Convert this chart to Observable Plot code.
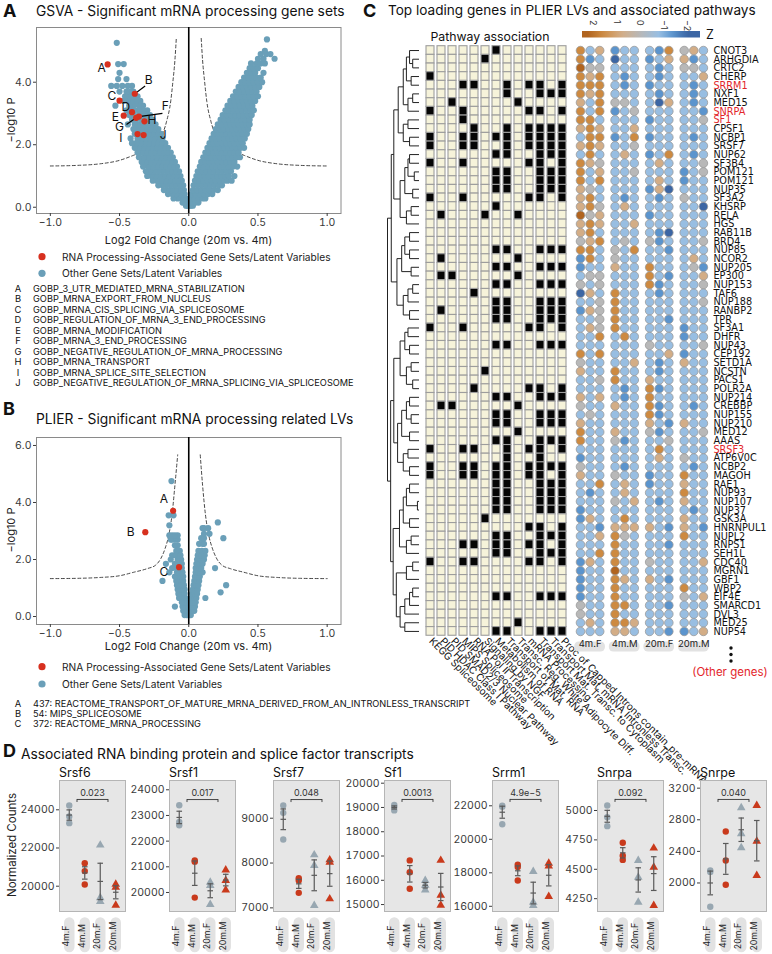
<!DOCTYPE html>
<html><head><meta charset="utf-8">
<script src="https://cdn.jsdelivr.net/npm/d3@7"></script>
<script src="https://cdn.jsdelivr.net/npm/@observablehq/plot@0.6"></script>
<style>
body{margin:0;background:#fff;}
#fig{position:relative;width:772px;height:954px;overflow:hidden;background:#fff;font-family:Inter,"Noto Sans",sans-serif;}
#fig svg{position:absolute;left:0;top:0;}
</style></head><body><div id="fig"></div>
<script>
// ---------------- DATA ----------------
// Panel A (GSVA) blue points: rows of [y, x...]
const gsvaLeft = [
 [0.05,-0.01,-0.02,-0.005],[0.15,-0.01,-0.03,-0.045,-0.02],[0.28,-0.02,-0.05,-0.08,-0.11,-0.035],
 [0.42,-0.03,-0.06,-0.09,-0.12,-0.15],[0.55,-0.035,-0.065,-0.095,-0.125,-0.155,-0.18],
 [0.7,-0.04,-0.07,-0.1,-0.13,-0.16,-0.19,-0.22],[0.85,-0.05,-0.08,-0.11,-0.14,-0.17,-0.2,-0.23,-0.26],
 [1.0,-0.06,-0.09,-0.12,-0.15,-0.18,-0.21,-0.24,-0.27,-0.3],[1.15,-0.07,-0.1,-0.13,-0.16,-0.19,-0.22,-0.25,-0.28,-0.31],
 [1.3,-0.085,-0.115,-0.145,-0.175,-0.205,-0.235,-0.265,-0.295,-0.33],[1.45,-0.1,-0.13,-0.16,-0.19,-0.22,-0.25,-0.28,-0.31,-0.34],
 [1.6,-0.115,-0.145,-0.175,-0.205,-0.235,-0.265,-0.295,-0.325,-0.36],[1.75,-0.13,-0.16,-0.19,-0.22,-0.25,-0.28,-0.31,-0.34,-0.37],
 [1.9,-0.15,-0.18,-0.21,-0.24,-0.27,-0.3,-0.33,-0.36,-0.39],[2.05,-0.17,-0.2,-0.23,-0.26,-0.29,-0.32,-0.35,-0.38,-0.41],
 [2.2,-0.19,-0.22,-0.25,-0.28,-0.31,-0.34,-0.37,-0.42],[2.35,-0.2,-0.23,-0.26,-0.29,-0.32,-0.35,-0.39],
 [2.5,-0.22,-0.25,-0.28,-0.31,-0.34,-0.37,-0.4],[2.65,-0.24,-0.27,-0.3,-0.33,-0.36,-0.39,-0.44],
 [2.8,-0.26,-0.29,-0.31,-0.34,-0.38,-0.41],[2.95,-0.28,-0.3,-0.33,-0.36,-0.4,-0.43],
 [3.1,-0.3,-0.33,-0.36,-0.39,-0.42,-0.45],[3.25,-0.33,-0.36,-0.4,-0.43,-0.53],[3.4,-0.35,-0.38,-0.41,-0.44,-0.47],
 [3.55,-0.37,-0.4,-0.43,-0.46],[3.7,-0.4,-0.42,-0.45,-0.5],[3.88,-0.41,-0.44,-0.48,-0.52,-0.56],
 [4.1,-0.45,-0.51],[4.3,-0.5],[4.58,-0.51,-0.47],[5.26,-0.52]
];
const gsvaRight = [
 [0.05,0.005,0.015,0.03],[0.15,0.01,0.03,0.05,0.07],[0.28,0.015,0.04,0.07,0.1,0.12],
 [0.42,0.02,0.05,0.08,0.11,0.14,0.17],[0.55,0.03,0.06,0.09,0.12,0.15,0.18,0.21],
 [0.7,0.035,0.065,0.095,0.125,0.155,0.185,0.215,0.24],[0.85,0.045,0.075,0.105,0.135,0.165,0.195,0.225,0.255,0.28,0.31],
 [1.0,0.055,0.085,0.115,0.145,0.175,0.205,0.235,0.265,0.29,0.33],[1.15,0.065,0.095,0.125,0.155,0.185,0.215,0.245,0.275,0.305],
 [1.3,0.08,0.11,0.14,0.17,0.2,0.23,0.26,0.29,0.32,0.35],[1.45,0.09,0.12,0.15,0.18,0.21,0.24,0.27,0.3,0.33],
 [1.6,0.105,0.135,0.165,0.195,0.225,0.255,0.285,0.315,0.345,0.37],[1.75,0.12,0.15,0.18,0.21,0.24,0.27,0.3,0.33,0.36],
 [1.9,0.135,0.165,0.195,0.225,0.255,0.285,0.315,0.345,0.375,0.4],[2.05,0.15,0.18,0.21,0.24,0.27,0.3,0.33,0.36,0.39],
 [2.2,0.165,0.195,0.225,0.255,0.285,0.315,0.345,0.375,0.405],[2.35,0.18,0.21,0.24,0.27,0.3,0.33,0.36,0.39,0.42],
 [2.5,0.195,0.225,0.255,0.285,0.315,0.345,0.375,0.405,0.43],[2.65,0.21,0.24,0.27,0.3,0.33,0.36,0.39,0.42,0.44],
 [2.8,0.23,0.26,0.29,0.32,0.35,0.38,0.41,0.44],[2.95,0.245,0.275,0.305,0.335,0.365,0.395,0.425,0.455],
 [3.1,0.265,0.295,0.325,0.355,0.385,0.415,0.445,0.47],[3.25,0.28,0.31,0.34,0.37,0.4,0.43,0.46],
 [3.4,0.3,0.33,0.36,0.39,0.42,0.45,0.48],[3.55,0.32,0.35,0.38,0.41,0.44,0.47,0.5],
 [3.7,0.34,0.37,0.4,0.43,0.46,0.49],[3.85,0.36,0.39,0.42,0.45,0.48,0.51],[4.0,0.38,0.41,0.44,0.47,0.5,0.53],
 [4.15,0.4,0.43,0.46,0.49,0.52],[4.3,0.42,0.45,0.48,0.54],[4.45,0.44,0.47,0.5],[4.6,0.45,0.49,0.52,0.55],
 [4.75,0.5,0.54,0.62],[4.9,0.52,0.56,0.59],[5.0,0.55],[5.37,0.565]
];
const gsvaCurveL = [[-1,1.32],[-0.8,1.34],[-0.64,1.39],[-0.5,1.5],[-0.4,1.66],[-0.3,1.85],[-0.25,2.0],[-0.2,2.25],[-0.16,2.75],[-0.13,3.4],[-0.115,4.0],[-0.1,4.7],[-0.09,5.4]];
const gsvaCurveR = [[0.09,5.4],[0.1,4.7],[0.115,4.0],[0.13,3.4],[0.16,2.75],[0.2,2.25],[0.25,2.0],[0.3,1.85],[0.4,1.66],[0.5,1.5],[0.64,1.39],[0.8,1.34],[1,1.32]];
const gsvaRed = [
 {id:"A",x:-0.586,y:4.57,lx:-0.63,ly:4.45},{id:"B",x:-0.39,y:3.63,lx:-0.29,ly:4.05},
 {id:"C",x:-0.50,y:3.41,lx:-0.555,ly:3.54},{id:"D",x:-0.41,y:3.04,lx:-0.455,ly:3.2},
 {id:"E",x:-0.47,y:2.93,lx:-0.53,ly:2.87},{id:"F",x:-0.36,y:2.9,lx:-0.17,ly:3.22},
 {id:"G",x:-0.38,y:2.86,lx:-0.5,ly:2.56},{id:"H",x:-0.32,y:2.75,lx:-0.265,ly:2.78},
 {id:"I",x:-0.37,y:2.34,lx:-0.49,ly:2.22},{id:"J",x:-0.326,y:2.31,lx:-0.185,ly:2.32}
];
const gsvaLeaders = [{x1:-0.39,y1:3.63,x2:-0.315,y2:3.88},{x1:-0.36,y1:2.9,x2:-0.19,y2:3.0},{x1:-0.45,y1:2.65,x2:-0.38,y2:2.86}];
const gsvaNames = ["GOBP_3_UTR_MEDIATED_MRNA_STABILIZATION","GOBP_MRNA_EXPORT_FROM_NUCLEUS","GOBP_MRNA_CIS_SPLICING_VIA_SPLICEOSOME","GOBP_REGULATION_OF_MRNA_3_END_PROCESSING","GOBP_MRNA_MODIFICATION","GOBP_MRNA_3_END_PROCESSING","GOBP_NEGATIVE_REGULATION_OF_MRNA_PROCESSING","GOBP_MRNA_TRANSPORT","GOBP_MRNA_SPLICE_SITE_SELECTION","GOBP_NEGATIVE_REGULATION_OF_MRNA_SPLICING_VIA_SPLICEOSOME"];

// Panel B (PLIER)
const plierLeft = [
 [0.05,-0.005,-0.015,-0.03],[0.2,-0.01,-0.025,-0.04],[0.35,-0.015,-0.03,-0.045,-0.1],[0.5,-0.02,-0.035,-0.05],
 [0.65,-0.025,-0.04,-0.055,-0.07],[0.8,-0.03,-0.045,-0.06,-0.075],[0.95,-0.03,-0.05,-0.065,-0.08],
 [1.1,-0.035,-0.05,-0.07,-0.085],[1.25,-0.04,-0.055,-0.075,-0.09,-0.19],[1.4,-0.04,-0.06,-0.08,-0.1],
 [1.55,-0.045,-0.065,-0.085,-0.14],[1.7,-0.05,-0.07,-0.09,-0.12],[1.85,-0.05,-0.075,-0.1,-0.165],
 [2.0,-0.055,-0.08,-0.13],[2.15,-0.06,-0.085,-0.1,-0.12],[2.3,-0.065,-0.09],[2.5,-0.08,-0.1],
 [2.7,-0.08,-0.1,-0.12,-0.13],[2.85,-0.08,-0.1,-0.12,-0.14],[3.2,-0.14],[3.55,-0.11,-0.145],[4.75,-0.125]
];
const plierRight = [
 [0.05,0.005,0.015],[0.2,0.01,0.025,0.04],[0.35,0.015,0.03,0.045],[0.5,0.02,0.035,0.05],
 [0.65,0.02,0.04,0.055,0.12],[0.8,0.025,0.045,0.06],[0.85,0.23],[0.95,0.03,0.05,0.065],
 [1.1,0.035,0.055,0.07,0.27],[1.25,0.04,0.06,0.075],[1.4,0.045,0.065,0.08],[1.55,0.05,0.07,0.085,0.1],
 [1.7,0.05,0.075,0.09,0.19],[1.85,0.055,0.08,0.1],[2.0,0.06,0.085,0.11],[2.15,0.065,0.09,0.115],
 [2.3,0.07,0.095,0.12],[2.55,0.075,0.1,0.11],[2.75,0.09,0.11,0.25],[2.9,0.11,0.15],[3.1,0.1,0.11,0.14],[3.3,0.21]
];
const plierCurveL = [[-1,1.33],[-0.8,1.34],[-0.64,1.37],[-0.5,1.43],[-0.4,1.55],[-0.3,1.68],[-0.24,1.8],[-0.2,2.05],[-0.17,2.4],[-0.145,2.84],[-0.12,3.6],[-0.1,4.6],[-0.08,5.67]];
const plierCurveR = [[0.083,5.67],[0.1,4.6],[0.12,3.6],[0.145,2.84],[0.17,2.4],[0.2,2.05],[0.24,1.8],[0.3,1.68],[0.4,1.55],[0.5,1.43],[0.64,1.37],[0.8,1.34],[1,1.33]];
const plierRed = [{id:"A",x:-0.113,y:3.71,lx:-0.18,ly:4.12},{id:"B",x:-0.314,y:2.96,lx:-0.42,ly:2.96},{id:"C",x:-0.07,y:1.73,lx:-0.18,ly:1.55}];
const plierNames = ["437: REACTOME_TRANSPORT_OF_MATURE_MRNA_DERIVED_FROM_AN_INTRONLESS_TRANSCRIPT","54: MIPS_SPLICEOSOME","372: REACTOME_MRNA_PROCESSING"];

// Panel C
const genes = ["CNOT3","ARHGDIA","CRTC2","CHERP","SRRM1","NXF1","MED15","SNRPA","SF1","CPSF1","NCBP1","SRSF7","NUP62","SF3B4","POM121","POM121","NUP35","SF3A2","KHSRP","RELA","HGS","RAB11B","BRD4","NUP85","NCOR2","NUP205","EP300","NUP153","TAF6","NUP188","RANBP2","TPR","SF3A1","DHFR","NUP43","CEP192","SETD1A","NCSTN","PACS1","POLR2A","NUP214","CREBBP","NUP155","NUP210","MED12","AAAS","SRSF3","ATP6V0C","NCBP2","MAGOH","RAE1","NUP93","NUP107","NUP37","GSK3A","HNRNPUL1","NUPL2","RNPS1","SEH1L","CDC40","MGRN1","GBF1","WBP2","EIF4E","SMARCD1","DVL3","MED25","NUP54"];
const highlightGenes = ["SRRM1","SNRPA","SF1","SRSF3"];
const pathways = ["KEGG Spliceosome","PID HDAC Class I Pathway","PID SMAD2/3 Nuclear Pathway","MIPS Spliceosome","RNA Pol II Transcription","Signaling by NGF","Metabolism of RNA","Transport of Mat. RNA","Transc. Reg. White Adipocyte Diff.","mRNA Processing","Transport Mat. Transc. to Cytoplasm","Transport Mat. mRNA Intronless Transc.","Proc of Capped Introns contain_pre-mRNA"];
const nup = [7,8,11,12,13];
const pathwayHits = [
 [7],[6],[],[1],[4,5,8,10,11,13],[8,11,12,13],[3,9],[1,4,10,11,13],[4],[5,8,10,11,12,13],
 [1,4,5,7,8,10,11,12,13],[1,4,5,8,10,11,12,13],nup,[1,4,10,11,13],nup,nup,nup,[1,4,10,11,13],[7],[2,6,9],
 [],[],[],nup,[2,9],nup,[2,3,9],nup,[5],nup,
 [2,7,8,11,12,13],nup,[1,4,10,11,13],[],nup,[],[],[6],[],[5,10,11,13],
 nup,[2,3,9],nup,nup,[9],nup,[1,4,5,8,10,11,13],[8,11],[1,4,5,7,8,10,11,12,13],[1,4,5,7,8,10,11,13],
 nup,nup,nup,nup,[6],[10,11,13],nup,[4,5,7,8,10,11,13],nup,[1,4,5,10,11,13],
 [],[],[],nup,[],[],[9],nup
];
const sampleGroups = ["4m.F","4m.M","20m.F","20m.M"];
// Z scores: 12 per gene (4m.F x3, 4m.M x3, 20m.F x3, 20m.M x3)
const zScores = [
 [1.6,-0.8,0.8,-1.4,-0.8,-0.8,-0.8,-1.4,1.6,0,0.8,-0.8],
 [1.6,-1.4,-0.8,-2,-0.8,-0.8,-1.4,-0.8,0.8,0.8,-1.4,-0.8],
 [2.2,0,0,-0.8,-0.8,-0.8,-0.8,-1.4,-0.8,0,0,-0.8],
 [1.6,0.8,1.6,-0.8,-1.4,-0.8,-0.8,-1.4,-0.8,-0.8,-0.8,0.8],
 [1.6,1.6,1.6,-0.8,-1.4,-0.8,-1.4,-0.8,-0.8,-0.8,-1.4,-0.8],
 [1.6,0.8,1.6,-0.8,-0.8,-0.8,-0.8,-1.4,-0.8,-0.8,-1.4,-0.8],
 [0.8,-0.8,1.6,0,0,-0.8,-0.8,-2,0.8,-0.8,-1.4,-0.8],
 [1.6,-0.8,1.6,-1.4,-0.8,0,-0.8,-0.8,-0.8,-0.8,-0.8,-1.4],
 [1.6,1.6,-0.8,-0.8,-0.8,-0.8,-1.4,-0.8,-0.8,-0.8,-0.8,0],
 [0.8,1.6,0.8,-0.8,-0.8,0.8,-0.8,-0.8,-0.8,-0.8,-0.8,-0.8],
 [-0.8,1.6,1.6,-1.4,-0.8,1.6,-1.4,-0.8,-0.8,-0.8,-1.4,-0.8],
 [0.8,1.6,0.8,-0.8,-0.8,0,-0.8,-0.8,-0.8,-0.8,-0.8,-0.8],
 [-0.8,1.6,-0.8,-0.8,0.8,-0.8,-1.4,-0.8,1.6,-0.8,-1.4,-0.8],
 [1.6,0.8,0,-0.8,-0.8,-0.8,-0.8,0.8,-0.8,-0.8,-0.8,0],
 [1.6,-0.8,0.8,-0.8,-0.8,0,-0.8,-0.8,-0.8,-1.4,-0.8,0],
 [1.6,-0.8,1.6,-0.8,-0.8,-0.8,-0.8,0.8,-0.8,-1.4,-0.8,-0.8],
 [0.8,0,-0.8,-0.8,-0.8,-0.8,-1.4,0.8,-2,-0.8,-0.8,-0.8],
 [0.8,1.6,-0.8,-0.8,-1.4,-0.8,-0.8,-1.4,-0.8,0,-0.8,-0.8],
 [0.8,1.6,0,-0.8,0.8,-0.8,-0.8,-0.8,-0.8,-0.8,-0.8,-2],
 [2.2,0,0.8,-0.8,-0.8,-0.8,-1.4,-0.8,-0.8,-0.8,-0.8,-0.8],
 [0.8,1.6,0.8,-0.8,-0.8,0.8,-0.8,-0.8,-0.8,-0.8,-0.8,-0.8],
 [0.8,1.6,-0.8,-0.8,-0.8,-0.8,-0.8,-1.4,-2,-0.8,-0.8,-0.8],
 [0,0.8,1.6,-0.8,0,-0.8,0,-1.4,-0.8,-0.8,-0.8,0],
 [1.6,1.6,-0.8,0,-0.8,1.6,-0.8,-0.8,-1.4,-0.8,-0.8,-0.8],
 [-1.4,1.6,-0.8,0,-0.8,-0.8,-0.8,-0.8,-0.8,-0.8,0.8,-0.8],
 [-1.4,-0.8,-0.8,0.8,-0.8,-0.8,1.6,-0.8,-0.8,-0.8,0,-1.4],
 [-0.8,0,0,-0.8,-0.8,-0.8,1.6,-0.8,-1.4,-0.8,-0.8,0.8],
 [0,-0.8,0,-0.8,-0.8,-0.8,1.6,-1.4,-0.8,-0.8,-0.8,0],
 [-2,0.8,-0.8,1.6,-0.8,-0.8,-0.8,-1.4,-0.8,-0.8,-0.8,-0.8],
 [-0.8,-0.8,0,1.6,-0.8,-0.8,-0.8,-0.8,-0.8,-0.8,-0.8,0],
 [-1.4,0.8,0,1.6,-0.8,-0.8,-0.8,-0.8,-0.8,-0.8,-0.8,-0.8],
 [-0.8,-0.8,0,1.6,-0.8,-0.8,-0.8,-0.8,-1.4,-0.8,-0.8,-0.8],
 [-0.8,0.8,0,1.6,-0.8,-0.8,-0.8,-0.8,-0.8,-1.4,-0.8,-0.8],
 [-0.8,-0.8,1.6,-0.8,1.6,-0.8,-0.8,-0.8,-0.8,-1.4,-0.8,-0.8],
 [-0.8,-0.8,-0.8,-0.8,-0.8,-0.8,0,-0.8,-0.8,-0.8,-0.8,0],
 [1.6,-0.8,1.6,-0.8,-0.8,-0.8,-0.8,-0.8,0.8,-1.4,-0.8,-0.8],
 [0,-0.8,-0.8,-0.8,-0.8,0.8,-0.8,-1.4,-0.8,0.8,-0.8,-0.8],
 [0.8,-0.8,-0.8,1.6,-0.8,-0.8,-0.8,-1.4,-0.8,-0.8,-0.8,-0.8],
 [-0.8,-0.8,0,1.6,-0.8,-0.8,0.8,-0.8,-0.8,-0.8,-0.8,-0.8],
 [-0.8,-0.8,-0.8,-0.8,-1.4,-0.8,1.6,-1.4,-0.8,-0.8,-0.8,-0.8],
 [0.8,-0.8,0.8,-0.8,-1.4,-0.8,1.6,-0.8,-0.8,-0.8,-0.8,-0.8],
 [0,-0.8,-0.8,0.8,-0.8,-0.8,1.6,-1.4,-0.8,-0.8,-1.4,-0.8],
 [-0.8,0,-0.8,-0.8,-0.8,-0.8,1.6,-1.4,-0.8,-0.8,-0.8,-0.8],
 [0.8,-0.8,-0.8,-0.8,-0.8,-0.8,0.8,-0.8,-1.4,0.8,-0.8,-0.8],
 [1.6,-0.8,-0.8,0.8,-0.8,-0.8,0,-1.4,-0.8,-0.8,-0.8,0],
 [1.6,-0.8,-0.8,0,-1.4,-0.8,-0.8,-0.8,0,-0.8,-0.8,-0.8],
 [-0.8,-0.8,-0.8,-0.8,-0.8,-0.8,-0.8,1.6,-0.8,-0.8,-0.8,-0.8],
 [-1.4,-0.8,-0.8,-0.8,-0.8,-0.8,-0.8,0.8,-0.8,0,-0.8,-0.8],
 [0,-0.8,-0.8,-0.8,-1.4,-0.8,-0.8,-0.8,-0.8,-0.8,-1.4,-0.8],
 [0.8,-0.8,-0.8,0,-0.8,-0.8,-1.4,-0.8,-0.8,1.6,-0.8,-0.8],
 [-0.8,-0.8,1.6,-0.8,0.8,-0.8,-1.4,-0.8,-0.8,0.8,-0.8,-0.8],
 [-0.8,-1.4,-0.8,-0.8,0.8,-0.8,-0.8,-0.8,-0.8,1.6,-0.8,-0.8],
 [-0.8,-0.8,-0.8,0,-0.8,0.8,-0.8,-1.4,-0.8,0.8,-0.8,-0.8],
 [-1.4,-0.8,-0.8,-0.8,-0.8,-0.8,-0.8,-0.8,-0.8,-0.8,-1.4,-0.8],
 [-1.4,0.8,-0.8,-0.8,1.6,-0.8,-0.8,-0.8,-0.8,0.8,-0.8,-0.8],
 [-0.8,-0.8,-1.4,0.8,0.8,0.8,0.8,-0.8,-1.4,0.8,-0.8,-1.4],
 [-0.8,-0.8,0.8,1.6,0,-0.8,-0.8,-0.8,-0.8,1.6,-0.8,-0.8],
 [-0.8,-0.8,-0.8,1.6,-0.8,-0.8,-0.8,-0.8,-1.4,-0.8,-0.8,-0.8],
 [-0.8,-0.8,1.6,1.6,-0.8,-0.8,-0.8,-0.8,-0.8,-0.8,-0.8,-0.8],
 [-1.4,0.8,-0.8,1.6,-0.8,-0.8,0,-0.8,-0.8,-0.8,-0.8,0.8],
 [-1.4,-0.8,-0.8,2.2,-0.8,-0.8,-0.8,-0.8,-0.8,-0.8,-0.8,-0.8],
 [-1.4,-0.8,-0.8,1.6,0.8,-0.8,0.8,-0.8,-1.4,-0.8,-0.8,-0.8],
 [-1.4,-0.8,-0.8,1.6,-0.8,-0.8,-0.8,-0.8,-0.8,1.6,-0.8,-0.8],
 [-1.4,-0.8,-0.8,1.6,-0.8,-0.8,-0.8,-0.8,-0.8,0,-0.8,0.8],
 [0,-0.8,-0.8,1.6,1.6,-0.8,-0.8,-0.8,-1.4,-0.8,-0.8,-0.8],
 [0,-0.8,-0.8,1.6,-0.8,-0.8,-0.8,-0.8,-0.8,-0.8,-0.8,-0.8],
 [-0.8,0.8,-0.8,1.6,1.6,0.8,-0.8,-0.8,-0.8,-0.8,-0.8,-0.8],
 [-0.8,-0.8,-0.8,0.8,0.8,-0.8,-0.8,-0.8,-1.4,-1.4,-0.8,0.8]
];
// dendrogram: [left, right, height] with leaves = gene row indices
const treeA = [[[0,1,0.45],[2,[3,[4,5,0.2],0.3],0.45],0.6],[6,[7,8,0.2],0.4],0.72];
const treeB = [[9,[10,11,0.25],0.4],[[12,13,0.3],[[14,15,0.05],[16,17,0.3],0.4],0.5],0.62];
const treeC = [[[18,19,0.3],[20,21,0.35],0.5],[[22,23,0.3],[[24,25,0.25],[26,27,0.3],0.4],0.55],0.68];
const treeD = [[[28,29,0.2],[30,31,0.25],0.4],[[32,33,0.3],[34,35,0.35],0.45],0.6];
const treeE = [[[36,37,0.3],[38,[39,40,0.2],0.35],0.5],[[41,42,0.25],[[43,44,0.3],[45,46,0.3],0.45],0.55],0.7];
const treeF = [[47,[48,49,0.25],0.4],[[50,51,0.2],[[52,53,0.15],[54,55,0.3],0.35],0.45],0.6];
const treeG = [[[56,57,0.3],[58,59,0.35],0.5],[[60,[61,62,0.2],0.35],[[63,64,0.25],[[65,66,0.2],67,0.3],0.4],0.5],0.66];
const treeRoot = [[[treeA,treeB,0.82],[treeC,treeD,0.8],0.9],[treeE,[treeF,treeG,0.8],0.88],1.0];
const zTicks = [2,1,0,-1,-2];

// Panel D
const facetGenes = ["Srsf6","Srsf1","Srsf7","Sf1","Srrm1","Snrpa","Snrpe"];
const counts = [
 [[24225,23650,23300],[21200,20790,20090],[22150,19400,19200],[20100,19950,19000]],
 [[23400,22750,22620],[21250,21200,19800],[20400,20270,19530],[20880,20470,20100]],
 [[9283,9119,8524],[7662,7610,7335],[8182,7944,7052],[8071,8019,7201]],
 [[19100,19020,18880],[16820,16330,15650],[15990,15800,15600],[16820,15380,14970]],
 [[22000,21950,20900],[18480,18340,17540],[18080,16245,16050],[18575,18400,16585]],
 [[5042,4943,4867],[4725,4615,4580],[4575,4433,4220],[4680,4518,4192]],
 [[2160,2140,1700],[2652,2285,1977],[2952,2623,2446],[2981,2529,2095]]
];
const facetTicks = [[20000,22000,24000],[20000,21000,22000,23000,24000],[7000,8000,9000],[15000,16000,17000,18000,19000,20000],[16000,18000,20000,22000],[4250,4500,4750,5000],[2000,2400,2800,3200]];
const facetDomains = [[18675,25534],[19259,24362],[6919,9841],[14714,20111],[15690,23510],[4141,5255],[1639,3297]];
const bracketY = [24540,23620,9416,19330,22380,5094,3057];
const pLabels = ["0.023","0.017","0.048","0.0013","4.9e\u22125","0.092","0.040"];

// ---------------- DRAWING ----------------
const fig = document.getElementById("fig");
const W = 772, H = 954;
const FONT = "Inter, 'Noto Sans', sans-serif";
function box(l, t, r, b) { return {width: W, height: H, marginLeft: l, marginTop: t, marginRight: W - r, marginBottom: H - b}; }
function st(size) { return {background: "transparent", fontFamily: FONT, fontSize: size + "px", color: "#3a3a3a", overflow: "visible"}; }
function add(p) { p.style.position = "absolute"; p.style.left = "0px"; p.style.top = "0px"; fig.appendChild(p); }
function expand(rows) { const out = []; rows.forEach(r => r.slice(1).forEach(x => out.push([x, r[0]]))); return out; }
const BLUE = "#6a9fb8", RED = "#d7301f";

function volcano(o) {
  const blue = [...expand(o.left), ...expand(o.right)];
  return Plot.plot({
    ...box(36, o.top, 340.5, o.bottom),
    style: st(10.5),
    x: {domain: [-1.1, 1.1]},
    y: {domain: o.yDomain},
    marks: [
      Plot.frame({stroke: "#8a8a8a"}),
      Plot.axisX({ticks: [-1, -0.5, 0, 0.5, 1], tickFormat: d3.format(".1f"), tickSize: 3, tickPadding: 2, label: null}),
      Plot.axisY({ticks: o.yTicks, tickSize: 3, tickPadding: 2, label: null}),
      Plot.line(o.curveL, {x: d => d[0], y: d => d[1], curve: "monotone-x", stroke: "#333", strokeDasharray: "3,2.5", strokeWidth: 0.9}),
      Plot.line(o.curveR, {x: d => d[0], y: d => d[1], curve: "monotone-x", stroke: "#333", strokeDasharray: "3,2.5", strokeWidth: 0.9}),
      Plot.dot(blue, {x: d => d[0], y: d => d[1], r: 3.1, fill: BLUE}),
      Plot.ruleX([0], {stroke: "black", strokeWidth: 1.6}),
      Plot.link(o.leaders, {x1: "x1", y1: "y1", x2: "x2", y2: "y2", stroke: "black", strokeWidth: 1.2}),
      Plot.dot(o.red, {x: "x", y: "y", r: 3.1, fill: RED}),
      Plot.text(o.red, {x: "lx", y: "ly", text: "id", fontSize: 12, fill: "#111"})
    ]
  });
}
add(volcano({top: 27, bottom: 213, yDomain: [-0.2, 5.75], yTicks: [0, 2, 4], left: gsvaLeft, right: gsvaRight, curveL: gsvaCurveL, curveR: gsvaCurveR, red: gsvaRed, leaders: gsvaLeaders}));
add(volcano({top: 437, bottom: 624, yDomain: [-0.28, 6.28], yTicks: [0, 2, 4, 6], left: plierLeft, right: plierRight, curveL: plierCurveL, curveR: plierCurveR, red: plierRed, leaders: []}));

// ---- Panel C: dendrogram
const segs = [];
function lay(n) {
  if (typeof n === "number") return {y: n, h: 0};
  const A = lay(n[0]), B = lay(n[1]), h = n[2];
  segs.push({x1: h, x2: h, y1: A.y, y2: B.y});
  segs.push({x1: A.h, x2: h, y1: A.y, y2: A.y});
  segs.push({x1: B.h, x2: h, y1: B.y, y2: B.y});
  return {y: (A.y + B.y) / 2, h};
}
lay(treeRoot);
const rowTop = 45.7, rowStep = 8.67, nRows = genes.length;
const rowBottom = rowTop + rowStep * nRows;
add(Plot.plot({
  ...box(387, rowTop + rowStep / 2, 418.5, rowBottom - rowStep / 2),
  style: st(10),
  x: {domain: [1, 0], axis: null},
  y: {domain: [0, nRows - 1], axis: null},
  marks: [Plot.link(segs, {x1: "x1", x2: "x2", y1: "y1", y2: "y2", stroke: "#222", strokeWidth: 1})]
}));

// ---- heatmap
const cells = [];
pathwayHits.forEach((hits, r) => pathways.forEach((p, c) => cells.push({r, p, v: hits.includes(c + 1)})));
add(Plot.plot({
  ...box(419.9, rowTop, 571.5, rowBottom),
  style: st(10),
  x: {type: "band", domain: pathways, paddingInner: 0.27, paddingOuter: 0.135, axis: null},
  y: {type: "band", domain: d3.range(nRows), padding: 0, axis: null},
  marks: [
    Plot.cell(cells, {x: "p", y: "r", fill: d => d.v ? "#050505" : "#f6f3da", stroke: "#9d9d9d", strokeWidth: 1.1}),
    Plot.text(pathways, {x: d => d, text: d => d, frameAnchor: "bottom", dy: 6, dx: -2, rotate: 45, textAnchor: "start", fontSize: 10, fill: "#111"})
  ]
}));

// ---- dot matrix
const zDomain = [-2, -1.4, -0.8, 0, 0.8, 1.6, 2.2];
const zRange = ["#3c66a4", "#5b94cd", "#98bee2", "#b8b8b8", "#d3ad86", "#cd8a41", "#b1641f"];
const dots = [];
zScores.forEach((row, r) => row.forEach((z, c) => dots.push({r, pos: Math.floor(c / 3) * 3.6 + (c % 3), z})));
const groupCenters = sampleGroups.map((g, i) => ({g, c: i * 3.6 + 1}));
add(Plot.plot({
  ...box(580, rowTop, 702.9, rowBottom),
  style: st(10),
  x: {domain: [0, 12.8], axis: null},
  y: {type: "band", domain: d3.range(nRows), padding: 0, axis: null},
  color: {type: "linear", domain: zDomain, range: zRange, clamp: true},
  marks: [
    Plot.dot(dots, {x: "pos", y: "r", fill: "z", r: 4.3, stroke: "#9a9a9a", strokeWidth: 0.8}),
    Plot.text(d3.range(nRows), {y: d => d, text: d => genes[d], frameAnchor: "right", dx: 10, textAnchor: "start",
      fill: d => highlightGenes.includes(genes[d]) ? "#e3262b" : "#111", fontSize: 10.8,
      fontFamily: "'Liberation Sans Narrow','DejaVu Sans Condensed','Roboto Condensed',sans-serif"}),
    Plot.rect(groupCenters, {x1: d => d.c - 1.6, x2: d => d.c + 1.6, insetTop: 641.5 - rowTop, insetBottom: -(651.5 - rowBottom), rx: 4.5, fill: "#e2e2e2"}),
    Plot.text(groupCenters, {x: "c", text: "g", frameAnchor: "bottom", dy: 11, fontSize: 9.5, fill: "#222"})
  ]
}));

// ---- Panel D
const fColor = {domain: ["F", "M"], range: ["#98a7b1", "#c93a1c"]};
facetGenes.forEach((name, k) => {
  const left = [59, 169, 273, 384, 492, 597, 700][k];
  const pts = [];
  counts[k].forEach((arr, g) => arr.forEach(v => pts.push({g, v, sex: sampleGroups[g].slice(-1), age: sampleGroups[g].split(".")[0]})));
  const stats = counts[k].map((arr, g) => { const m = d3.mean(arr), se = d3.deviation(arr) / Math.sqrt(arr.length); return {g, m, lo: m - se, hi: m + se}; });
  const bars = stats.flatMap(s => [s.lo, s.m, s.hi].map(y => ({x1: s.g - 0.18, x2: s.g + 0.18, y})));
  const by = bracketY[k];
  add(Plot.plot({
    ...box(left, 780, left + 66, 911),
    style: st(10.5),
    x: {domain: [-0.63, 3.63], axis: null},
    y: {domain: facetDomains[k]},
    color: fColor,
    symbol: {domain: ["4m", "20m"], range: ["circle", "triangle"]},
    marks: [
      Plot.frame({fill: "#e6e6e6", stroke: "#b5b5b5"}),
      Plot.ruleX([0, 1, 2, 3], {x: d => d, stroke: "#e2e2e2", strokeWidth: 10.5, strokeLinecap: "round", insetTop: 142.5, insetBottom: -36}),
      Plot.text([0, 1, 2, 3], {x: d => d, text: d => sampleGroups[d], frameAnchor: "bottom", dy: 24.5, rotate: -90, fontSize: 8.8, fill: "#222"}),
      Plot.axisY({ticks: facetTicks[k], tickFormat: d3.format("d"), tickSize: 3, tickPadding: 2, label: null}),
      Plot.dot(pts, {x: "g", y: "v", fill: "sex", symbol: "age", r: 3.2}),
      Plot.ruleX(stats, {x: "g", y1: "lo", y2: "hi", stroke: "#5a5a5a", strokeWidth: 1.2}),
      Plot.link(bars, {x1: "x1", x2: "x2", y1: "y", y2: "y", stroke: "#5a5a5a", strokeWidth: 1.2}),
      Plot.link([by], {x1: () => 0.5, x2: () => 2.5, y1: d => d, y2: d => d, stroke: "#333", strokeWidth: 0.9}),
      Plot.ruleX([0.5, 2.5], {x: d => d, y1: () => by, y2: () => by, insetBottom: -3, stroke: "#333", strokeWidth: 0.9}),
      Plot.text([pLabels[k]], {x: () => 1.5, y: () => by, dy: -6, text: d => d, fontSize: 9, fill: "#333"})
    ]
  }));
});

// ---------------- TEXT OVERLAY ----------------
const ov = d3.select(fig).append("svg").attr("width", W).attr("height", H).style("font-family", FONT).style("white-space", "pre");
function T(x, y, s, o = {}) {
  const t = ov.append("text").attr("x", x).attr("y", y).text(s).attr("font-size", o.size || 11).attr("fill", o.fill || "#111");
  if (o.weight) t.attr("font-weight", o.weight);
  if (o.anchor) t.attr("text-anchor", o.anchor);
  if (o.rotate) t.attr("transform", `rotate(${o.rotate},${x},${y})`);
  if (o.family) t.attr("font-family", o.family);
  return t;
}
function C(x, y, r, fill) { ov.append("circle").attr("cx", x).attr("cy", y).attr("r", r).attr("fill", fill); }

T(3, 17, "A", {size: 18, weight: 700});
T(36, 16, "GSVA - Significant mRNA processing gene sets", {size: 13.8});
T(15, 120, "\u2212log10 P", {size: 11, anchor: "middle", rotate: -90, fill: "#222"});
T(188.5, 244, "Log2 Fold Change (20m vs. 4m)", {size: 11, anchor: "middle", fill: "#222"});
C(42, 256.7, 3.6, RED); T(62, 260.5, "RNA Processing-Associated Gene Sets/Latent Variables", {size: 10.2, fill: "#222"});
C(42, 273.3, 3.6, BLUE); T(62, 277, "Other Gene Sets/Latent Variables", {size: 10.2, fill: "#222"});
gsvaNames.forEach((n, i) => { const y = 292 + i * 10.45; T(18, y, "ABCDEFGHIJ"[i], {size: 9.4, anchor: "middle"}); T(33, y, n, {size: 9.2}); });

T(3, 415, "B", {size: 18, weight: 700});
T(36, 424, "PLIER - Significant mRNA processing related LVs", {size: 13.8});
T(15, 530, "\u2212log10 P", {size: 11, anchor: "middle", rotate: -90, fill: "#222"});
T(188.5, 650, "Log2 Fold Change (20m vs. 4m)", {size: 11, anchor: "middle", fill: "#222"});
C(42, 666.7, 3.6, RED); T(62, 670.5, "RNA Processing-Associated Gene Sets/Latent Variables", {size: 10.2, fill: "#222"});
C(42, 684, 3.6, BLUE); T(62, 688, "Other Gene Sets/Latent Variables", {size: 10.2, fill: "#222"});
plierNames.forEach((n, i) => { const y = 706.5 + i * 10.3; T(18, y, "ABC"[i], {size: 9.4, anchor: "middle"}); T(33, y, n, {size: 9.2}); });

T(363, 17, "C", {size: 18, weight: 700});
T(388, 15, "Top loading genes in PLIER LVs  and associated pathways", {size: 13.6});
T(490, 41, "Pathway association", {size: 12.3, anchor: "middle"});
// Z colour bar
const zs = d3.scaleLinear().domain(zDomain).range(zRange).clamp(true);
const zx = d3.scaleLinear().domain([2, -2]).range([593, 687]);
const grad = ov.append("defs").append("linearGradient").attr("id", "zgrad");
d3.range(0, 21).forEach(i => { const z = zx.invert(582 + (700 - 582) * i / 20); grad.append("stop").attr("offset", (i * 5) + "%").attr("stop-color", zs(z)); });
ov.append("rect").attr("x", 582).attr("y", 31).attr("width", 118).attr("height", 6.5).attr("fill", "url(#zgrad)");
zTicks.forEach(z => T(zx(z) - 3, 20, d3.format("d")(z), {size: 9, rotate: 90, fill: "#333"}));
T(706, 39, "Z", {size: 12.5});
C(731, 648, 1.7, "#111"); C(731, 654.5, 1.7, "#111"); C(731, 661, 1.7, "#111");
T(730, 676, "(Other genes)", {size: 11.5, anchor: "middle", fill: "#e3262b"});

T(3, 757, "D", {size: 18, weight: 700});
T(21, 759, "Associated RNA binding protein and splice factor transcripts", {size: 13.8});
T(16, 845, "Normalized Counts", {size: 11.5, anchor: "middle", rotate: -90, fill: "#222"});
facetGenes.forEach((n, k) => T([59, 169, 273, 384, 492, 597, 700][k], 777, n, {size: 12.5}));
</script></body></html>
